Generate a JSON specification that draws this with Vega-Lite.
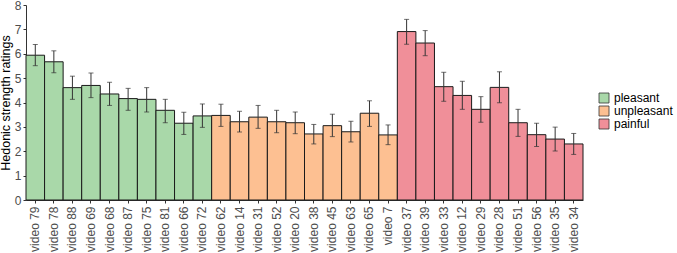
{
  "$schema": "https://vega.github.io/schema/vega-lite/v6.json",
  "autosize": "none",
  "padding": {"left": 26, "top": 5, "right": 94, "bottom": 53},
  "width": 557,
  "height": 195,
  "config": {
    "font": "Liberation Sans",
    "view": {"stroke": null},
    "axis": {"labelColor": "#4d4d4d", "labelFontSize": 12, "titleFontWeight": "normal", "titleColor": "#000000", "domainColor": "#333333", "tickColor": "#333333", "grid": false, "labelOverlap": false, "labelSeparation": 0}
  },
  "data": {
    "values": [
      {"video": "video 79", "group": "pleasant", "mean": 5.94, "lo": 5.51, "hi": 6.38},
      {"video": "video 78", "group": "pleasant", "mean": 5.67, "lo": 5.22, "hi": 6.12},
      {"video": "video 88", "group": "pleasant", "mean": 4.61, "lo": 4.13, "hi": 5.08},
      {"video": "video 69", "group": "pleasant", "mean": 4.70, "lo": 4.20, "hi": 5.21},
      {"video": "video 68", "group": "pleasant", "mean": 4.35, "lo": 3.88, "hi": 4.83},
      {"video": "video 87", "group": "pleasant", "mean": 4.16, "lo": 3.68, "hi": 4.58},
      {"video": "video 75", "group": "pleasant", "mean": 4.13, "lo": 3.61, "hi": 4.61},
      {"video": "video 81", "group": "pleasant", "mean": 3.68, "lo": 3.17, "hi": 4.13},
      {"video": "video 66", "group": "pleasant", "mean": 3.15, "lo": 2.69, "hi": 3.60},
      {"video": "video 72", "group": "pleasant", "mean": 3.45, "lo": 2.98, "hi": 3.94},
      {"video": "video 62", "group": "unpleasant", "mean": 3.47, "lo": 3.02, "hi": 3.93},
      {"video": "video 14", "group": "unpleasant", "mean": 3.21, "lo": 2.79, "hi": 3.64},
      {"video": "video 31", "group": "unpleasant", "mean": 3.40, "lo": 2.94, "hi": 3.88},
      {"video": "video 52", "group": "unpleasant", "mean": 3.21, "lo": 2.76, "hi": 3.68},
      {"video": "video 20", "group": "unpleasant", "mean": 3.17, "lo": 2.72, "hi": 3.61},
      {"video": "video 38", "group": "unpleasant", "mean": 2.71, "lo": 2.30, "hi": 3.10},
      {"video": "video 45", "group": "unpleasant", "mean": 3.05, "lo": 2.60, "hi": 3.52},
      {"video": "video 63", "group": "unpleasant", "mean": 2.80, "lo": 2.38, "hi": 3.23},
      {"video": "video 65", "group": "unpleasant", "mean": 3.56, "lo": 3.02, "hi": 4.07},
      {"video": "video 7", "group": "unpleasant", "mean": 2.67, "lo": 2.27, "hi": 3.08},
      {"video": "video 37", "group": "painful", "mean": 6.91, "lo": 6.39, "hi": 7.41},
      {"video": "video 39", "group": "painful", "mean": 6.44, "lo": 5.92, "hi": 6.95},
      {"video": "video 33", "group": "painful", "mean": 4.65, "lo": 4.05, "hi": 5.24},
      {"video": "video 12", "group": "painful", "mean": 4.29, "lo": 3.72, "hi": 4.87},
      {"video": "video 29", "group": "painful", "mean": 3.72, "lo": 3.19, "hi": 4.24},
      {"video": "video 28", "group": "painful", "mean": 4.62, "lo": 3.99, "hi": 5.26},
      {"video": "video 51", "group": "painful", "mean": 3.17, "lo": 2.61, "hi": 3.72},
      {"video": "video 56", "group": "painful", "mean": 2.68, "lo": 2.20, "hi": 3.15},
      {"video": "video 35", "group": "painful", "mean": 2.50, "lo": 2.01, "hi": 2.99},
      {"video": "video 34", "group": "painful", "mean": 2.30, "lo": 1.87, "hi": 2.73}
    ]
  },
  "encoding": {
    "x": {
      "field": "video", "type": "nominal", "sort": null,
      "scale": {"paddingInner": 0, "paddingOuter": 0},
      "axis": {"title": null, "labelAngle": 270, "labelAlign": "right", "labelBaseline": "middle", "labelPadding": 3, "tickSize": 3, "domain": true}
    }
  },
  "layer": [
    {
      "mark": {"type": "bar", "stroke": "#1a1a1a", "strokeWidth": 1},
      "encoding": {
        "y": {
          "field": "mean", "type": "quantitative",
          "scale": {"domain": [0, 8], "nice": false, "zero": true},
          "axis": {"title": "Hedonic strength ratings", "titleFontSize": 12.5, "titlePadding": 2, "tickCount": 8, "tickMinStep": 1, "tickSize": 3, "labelPadding": 2}
        },
        "color": {
          "field": "group", "type": "nominal",
          "scale": {"domain": ["pleasant", "unpleasant", "painful"], "range": ["#a9d8a9", "#fdc092", "#f08f99"]},
          "legend": {"title": null, "orient": "none", "legendX": 572, "legendY": 87, "symbolType": "square", "symbolSize": 100, "symbolStrokeColor": "#333333", "symbolStrokeWidth": 0.8, "labelFontSize": 12, "labelColor": "#000000", "rowPadding": -3, "labelOffset": 4, "symbolOpacity": 1}
        }
      }
    },
    {
      "mark": {"type": "rule", "color": "#333333", "strokeWidth": 1},
      "encoding": {
        "y": {"field": "lo", "type": "quantitative"},
        "y2": {"field": "hi"}
      }
    },
    {
      "mark": {"type": "tick", "color": "#333333", "thickness": 1, "size": 5},
      "encoding": {"y": {"field": "lo", "type": "quantitative"}}
    },
    {
      "mark": {"type": "tick", "color": "#333333", "thickness": 1, "size": 5},
      "encoding": {"y": {"field": "hi", "type": "quantitative"}}
    }
  ]
}
